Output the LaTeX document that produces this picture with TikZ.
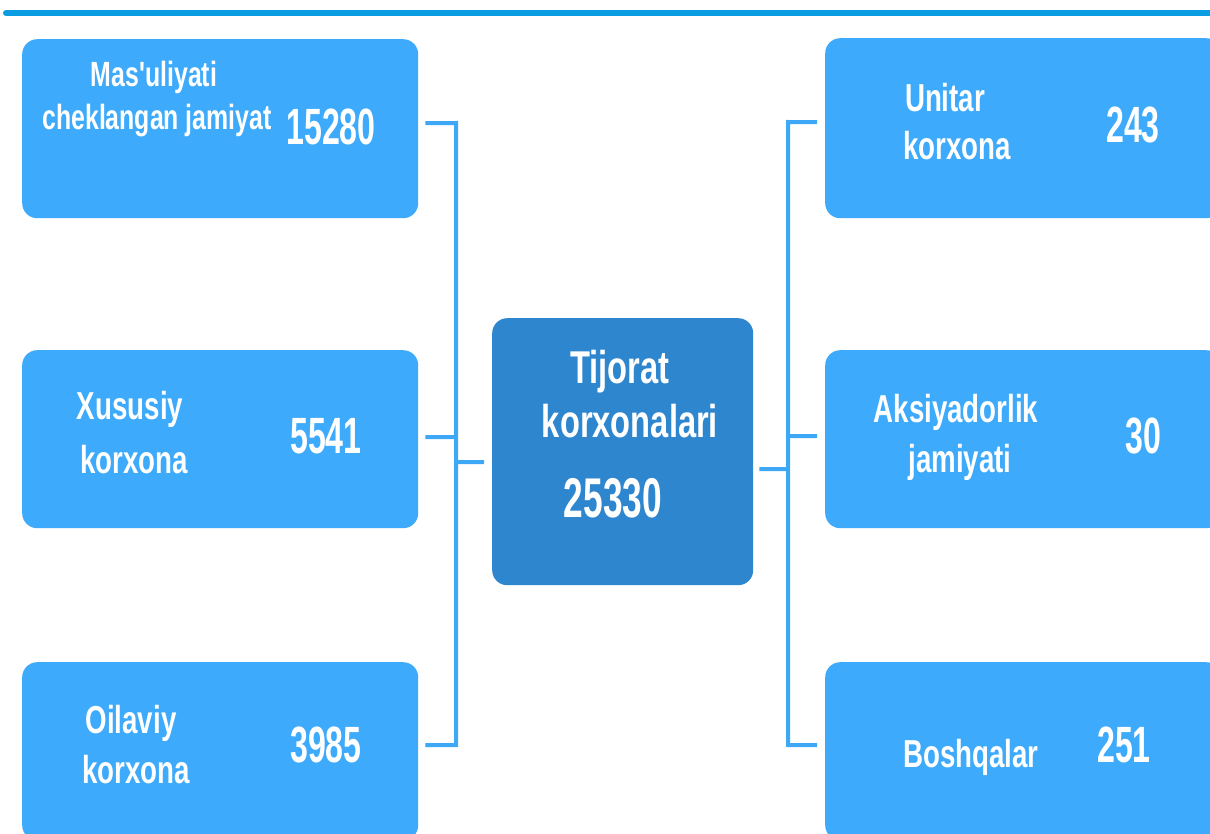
\documentclass[tikz,border=0pt]{standalone}
\usepackage{fontspec}
\setmainfont{Liberation Sans}
\newfontfamily\lblfont[FakeStretch=0.71,Ligatures=TeXOff]{Liberation Sans}
\newfontfamily\numfont[FakeStretch=0.63]{Liberation Sans}
\definecolor{lb}{HTML}{3DAAFB}
\definecolor{cb}{HTML}{2E86CF}
\definecolor{cn}{HTML}{3DA8F6}
\definecolor{tl}{HTML}{0A9DE3}
\begin{document}
\begin{tikzpicture}[x=1pt,y=-1pt,
  lbox/.style={fill=lb, rounded corners=15pt, minimum width=396pt, minimum height=178pt, inner sep=0pt, anchor=north west},
  cbox/.style={fill=cb, rounded corners=15pt, minimum width=261pt, minimum height=267pt, inner sep=0pt, anchor=north west},
  lbl/.style={text=white, font=\lblfont\bfseries\fontsize{39}{47}\selectfont, anchor=base, inner sep=0pt},
  lbls/.style={text=white, font=\lblfont\bfseries\fontsize{35}{42}\selectfont, anchor=base, inner sep=0pt},
  lblc/.style={text=white, font=\lblfont\bfseries\fontsize{46}{55}\selectfont, anchor=base, inner sep=0pt},
  num/.style={text=white, font=\numfont\bfseries\fontsize{51}{60}\selectfont, anchor=base, inner sep=0pt},
  numc/.style={text=white, font=\numfont\bfseries\fontsize{56}{66}\selectfont, anchor=base, inner sep=0pt},
  conn/.style={draw=cn, line width=4pt},
  topline/.style={draw=tl, line width=6pt, line cap=round}]
\useasboundingbox (0,0) rectangle (1210,834);
% top line
\coordinate (tla) at (6,13);
\coordinate (tlb) at (1220,13);
\draw[topline] (tla) -- (tlb);
% boxes
\node[lbox, minimum height=179pt] (m1) at (22,39) {};
\node[lbox] (m2) at (22,350) {};
\node[lbox] (m3) at (22,662) {};
\node[lbox, minimum height=180pt] (r1) at (825,38) {};
\node[lbox] (r2) at (825,350) {};
\node[lbox] (r3) at (825,662) {};
\node[cbox] (c) at (492,318) {};
% texts
\node[lbls] (t1a) at (154,87) {Mas'uliyati};
\node[lbls] (t1b) at (157,130) {cheklangan jamiyat};
\node[num] (n1) at (331,145) {15280};
\node[lbl] (t2a) at (130,419) {Xususiy};
\node[lbl] (t2b) at (134,473) {korxona};
\node[num] (n2) at (326,453) {5541};
\node[lbl] (t3a) at (131,733) {Oilaviy};
\node[lbl] (t3b) at (136,783) {korxona};
\node[num] (n3) at (326,762) {3985};
\node[lbl] (t4a) at (945,112) {Unitar};
\node[lbl] (t4b) at (957,160) {korxona};
\node[num] (n4) at (1133,143) {243};
\node[lbl] (t5a) at (956,422) {Aksiyadorlik};
\node[lbl] (t5b) at (960,472) {jamiyati};
\node[num] (n5) at (1143,453) {30};
\node[lbl] (t6a) at (971,767) {Boshqalar};
\node[num] (n6) at (1124,762) {251};
\node[lblc] (tca) at (620,383) {Tijorat};
\node[lblc] (tcb) at (630,437) {korxonalari};
\node[numc] (nc) at (613,517) {25330};
% connectors left
\coordinate (jl1) at (456,123);
\coordinate (jl2) at (456,437);
\coordinate (jl3) at (456,745);
\coordinate (jlc) at (456,462);
\draw[conn] ([shift={(7,-5.5)}]m1.east) -- (jl1) -- (jl3) -- ([shift={(7,-6)}]m3.east);
\draw[conn] ([shift={(7,-2)}]m2.east) -- (jl2);
\draw[conn] (jlc) -- ([shift={(-8,10.5)}]c.west);
% connectors right
\coordinate (jr1) at (788,122);
\coordinate (jr2) at (788,436);
\coordinate (jr3) at (788,745);
\coordinate (jrc) at (788,469);
\draw[conn] ([shift={(-8,-6)}]r1.west) -- (jr1) -- (jr3) -- ([shift={(-8,-6)}]r3.west);
\draw[conn] ([shift={(-8,-3)}]r2.west) -- (jr2);
\draw[conn] ([shift={(6,17.5)}]c.east) -- (jrc);
\end{tikzpicture}
\end{document}
